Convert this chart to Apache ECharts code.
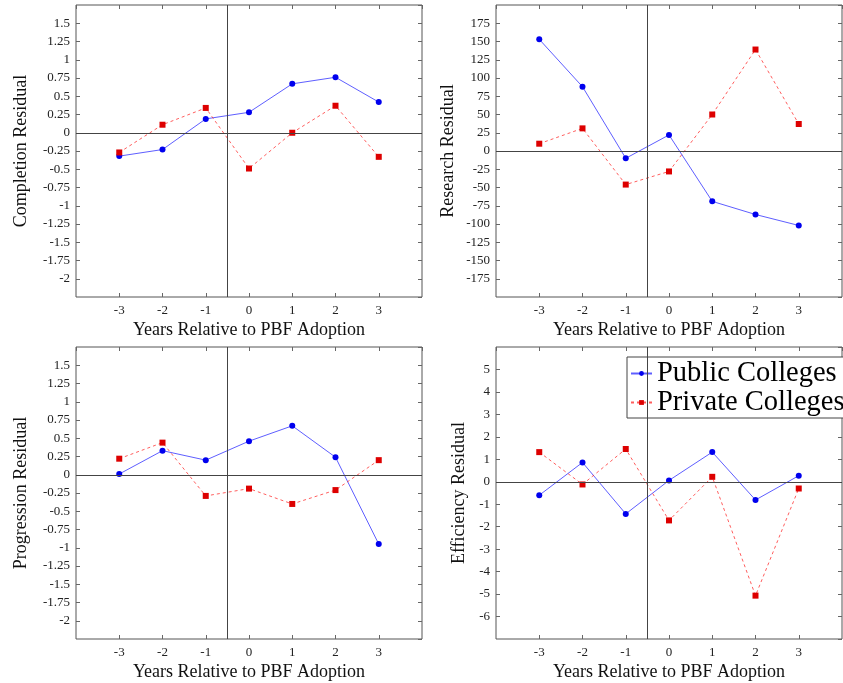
<!DOCTYPE html>
<html>
<head>
<meta charset="utf-8">
<script src="https://cdn.jsdelivr.net/npm/echarts@6/dist/echarts.min.js"></script>
<style>
html, body { margin: 0; padding: 0; background: #fff; }
#Chart { width: 843px; height: 683px; }
</style>
</head>
<body>
<div id="Chart"></div>
<script>
// data
var years = [-3, -2, -1, 0, 1, 2, 3];
var completionPublic = [-0.32, -0.23, 0.19, 0.28, 0.67, 0.76, 0.42];
var completionPrivate = [-0.27, 0.11, 0.34, -0.49, 0.0, 0.37, -0.33];
var researchPublic = [153, 88, -10, 22, -69, -87, -102];
var researchPrivate = [10, 31, -46, -28, 50, 139, 37];
var progressionPublic = [0.01, 0.33, 0.2, 0.46, 0.67, 0.24, -0.95];
var progressionPrivate = [0.22, 0.44, -0.29, -0.19, -0.4, -0.21, 0.2];
var efficiencyPublic = [-0.6, 0.86, -1.43, 0.06, 1.32, -0.81, 0.27];
var efficiencyPrivate = [1.32, -0.12, 1.46, -1.72, 0.22, -5.07, -0.3];
var seriesNames = ['Public Colleges', 'Private Colleges'];
var xTitle = 'Years Relative to PBF Adoption';

var serif = 'Liberation Serif';
var frameColor = '#555';
var blueLine = 'rgba(40,40,255,0.75)';
var blueMark = '#0000ee';
var redLine = 'rgba(255,40,40,0.75)';
var redMark = '#dd0000';

var panels = [
    { title: 'Completion Residual', pub: completionPublic, priv: completionPrivate, min: -2.25, max: 1.75, step: 0.25, left: 76, top: 5, gap: 46 },
    { title: 'Research Residual', pub: researchPublic, priv: researchPrivate, min: -200, max: 200, step: 25, left: 496, top: 5, gap: 39 },
    { title: 'Progression Residual', pub: progressionPublic, priv: progressionPrivate, min: -2.25, max: 1.75, step: 0.25, left: 76, top: 347, gap: 46 },
    { title: 'Efficiency Residual', pub: efficiencyPublic, priv: efficiencyPrivate, min: -7, max: 6, step: 1, left: 496, top: 347, gap: 28 }
];

function pairs(vals) {
    var out = [];
    for (var i = 0; i < years.length; i++) {
        out.push([years[i], vals[i]]);
    }
    return out;
}

var grids = [], xAxes = [], yAxes = [], series = [];
for (var i = 0; i < panels.length; i++) {
    var p = panels[i];
    grids.push({
        left: p.left, top: p.top, width: 346, height: 292,
        show: true, borderColor: frameColor, borderWidth: 1, backgroundColor: 'transparent'
    });
    var tick = { inside: true, length: 4, lineStyle: { color: '#666', width: 1 } };
    var noLine = { show: false, onZero: false };
    xAxes.push({
        type: 'value', gridIndex: i, position: 'bottom', min: -4, max: 4, interval: 1,
        axisLine: noLine, axisTick: tick, splitLine: { show: false },
        axisLabel: { showMinLabel: false, showMaxLabel: false, fontFamily: serif, fontSize: 13, color: '#222', margin: 7 },
        name: xTitle, nameLocation: 'middle', nameGap: 24,
        nameTextStyle: { fontFamily: serif, fontSize: 18, color: '#111' }
    });
    xAxes.push({
        type: 'value', gridIndex: i, position: 'top', min: -4, max: 4, interval: 1,
        axisLine: noLine, axisTick: tick, splitLine: { show: false },
        axisLabel: { show: false }
    });
    yAxes.push({
        type: 'value', gridIndex: i, position: 'left', min: p.min, max: p.max, interval: p.step,
        axisLine: noLine, axisTick: tick, splitLine: { show: false },
        axisLabel: { showMinLabel: false, showMaxLabel: false, fontFamily: serif, fontSize: 13, color: '#222', margin: 6 },
        name: p.title, nameLocation: 'middle', nameGap: p.gap,
        nameTextStyle: { fontFamily: serif, fontSize: 18, color: '#111' }
    });
    yAxes.push({
        type: 'value', gridIndex: i, position: 'right', min: p.min, max: p.max, interval: p.step,
        axisLine: noLine, axisTick: tick, splitLine: { show: false },
        axisLabel: { show: false }
    });
    series.push({
        name: seriesNames[0], type: 'line', xAxisIndex: 2 * i, yAxisIndex: 2 * i,
        data: pairs(p.pub), symbol: 'circle', symbolSize: 6,
        lineStyle: { color: blueLine, width: 1 },
        itemStyle: { color: blueMark },
        markLine: {
            silent: true, symbol: 'none', label: { show: false },
            lineStyle: { color: '#444', width: 1, type: 'solid' },
            data: [{ yAxis: 0 }, { xAxis: -0.5 }]
        }
    });
    series.push({
        name: seriesNames[1], type: 'line', xAxisIndex: 2 * i, yAxisIndex: 2 * i,
        data: pairs(p.priv), symbol: 'rect', symbolSize: 6,
        lineStyle: { color: redLine, width: 1, type: [3, 3] },
        itemStyle: { color: redMark }
    });
}

var myChart = echarts.init(document.getElementById('Chart'));
myChart.setOption({
    animation: false,
    grid: grids,
    xAxis: xAxes,
    yAxis: yAxes,
    legend: {
        data: seriesNames, orient: 'vertical', left: 627, top: 357,
        backgroundColor: '#fff', borderColor: '#444', borderWidth: 1,
        padding: [2, 12, 1, 3], itemGap: 0, itemWidth: 21, itemHeight: 6,
        textStyle: { fontFamily: serif, fontSize: 28.5, color: '#000', lineHeight: 25 }
    },
    series: series
});
window.addEventListener('resize', function () {
    myChart.resize();
});
</script>
</body>
</html>
